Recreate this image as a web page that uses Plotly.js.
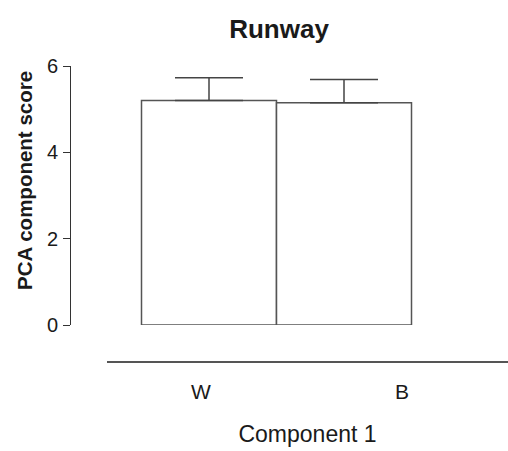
<!DOCTYPE html>
<html>
<head>
<meta charset="utf-8">
<script src="https://cdn.plot.ly/plotly-3.0.1.min.js"></script>
<style>
  html, body { margin: 0; padding: 0; background: #fff; }
  #chart { width: 508px; height: 451px; }
</style>
</head>
<body>
<div id="chart"></div>
<script>
// Runway: PCA component 1 scores per group (mean + SEM)
const groups = ["W", "B"];
const scores = [5.20, 5.15];
const sem = [0.53, 0.54];
const yTicks = [0, 2, 4, 6];
// where the group labels sit along the baseline (in bar-slot units)
const labelPos = [-0.06, 1.43];

const W = 508, H = 451;
const mT = 66, mB = 90;
const plotH = H - mT - mB;
const zeroRowPx = 325;              // pixel row of y = 0
const yDomLow = (H - mB - zeroRowPx) / plotH;

// x axis spans from 107px to the right edge; one bar slot = 135px, first bar centred at 209px
const slotPx = 135, firstBarPx = 209, xLeftPx = 107;
const xR0 = -(firstBarPx - xLeftPx) / slotPx;
const xR1 = xR0 + (W - xLeftPx) / slotPx;

const font = "'Liberation Sans', Arial, Helvetica, sans-serif";
const ink = "#1a1a1a";

const bars = {
  type: "bar",
  x: [0, 1],
  y: scores,
  width: 1,
  marker: { color: "#ffffff", line: { color: "#555555", width: 1.5 } },
  error_y: {
    type: "data", array: sem, arrayminus: [0, 0], symmetric: false,
    color: "#444444", thickness: 1.5, width: 34
  },
  hoverinfo: "none",
  showlegend: false
};

const layout = {
  width: W, height: H,
  margin: { l: 0, r: 0, t: mT, b: mB },
  paper_bgcolor: "#ffffff",
  plot_bgcolor: "rgba(0,0,0,0)",
  font: { family: font, color: ink },
  title: {
    text: "<b>Runway</b>",
    font: { size: 26, family: font, color: ink },
    x: 279 / W, xanchor: "center",
    y: 1 - 29 / H, yanchor: "middle"
  },
  xaxis: {
    domain: [xLeftPx / W, 1],
    range: [xR0, xR1],
    anchor: "free", position: 0,
    tickmode: "array", tickvals: labelPos, ticktext: groups,
    ticks: "", showline: true, linecolor: "#555555", linewidth: 1.5,
    showgrid: false, zeroline: false,
    tickfont: { size: 21, family: font, color: ink },
    ticklabelstandoff: 11,
    title: { text: "Component 1", font: { size: 23, family: font, color: ink }, standoff: 24 },
    fixedrange: true
  },
  yaxis: {
    domain: [yDomLow, 1],
    range: [0, 6],
    anchor: "free", position: 70 / W,
    tickmode: "array", tickvals: yTicks,
    ticks: "outside", ticklen: 7, tickwidth: 1, tickcolor: "#333333",
    showline: true, linecolor: "#333333", linewidth: 1,
    showgrid: false, zeroline: false,
    tickfont: { size: 20, family: font, color: ink },
    ticklabelstandoff: 1,
    fixedrange: true
  },
  annotations: [{
    text: "<b>PCA component score</b>",
    xref: "paper", yref: "paper",
    x: 24 / W, y: (H - mB - 181) / plotH,
    xanchor: "center", yanchor: "middle",
    textangle: -90, showarrow: false,
    font: { size: 20.5, family: font, color: ink }
  }]
};

Plotly.newPlot("chart", [bars], layout, { displayModeBar: false, staticPlot: true });
</script>
</body>
</html>
